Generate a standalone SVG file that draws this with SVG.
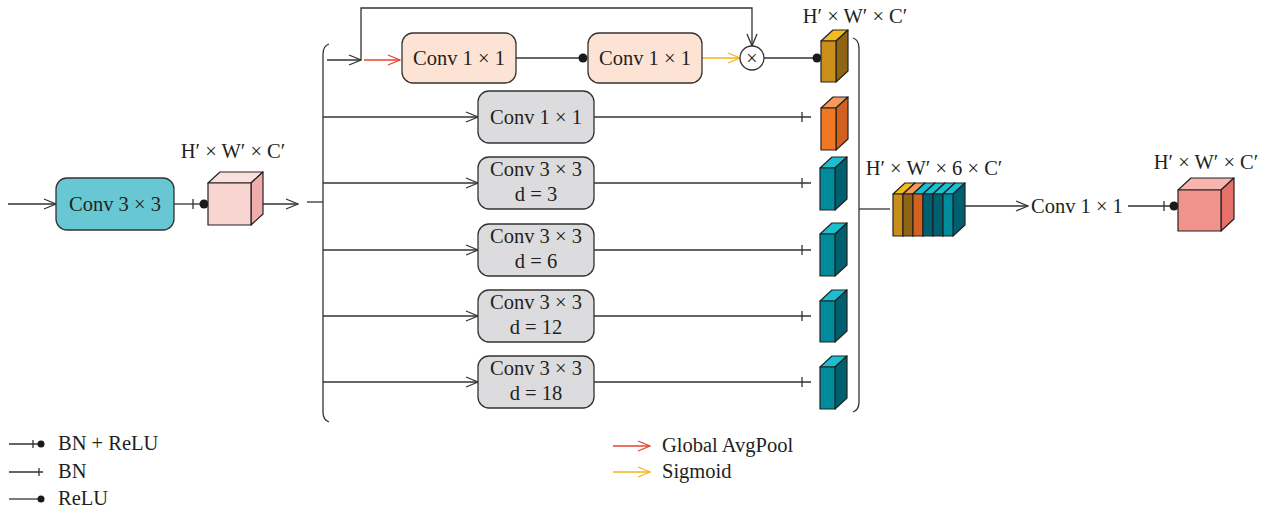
<svg xmlns="http://www.w3.org/2000/svg" width="1277" height="512" viewBox="0 0 1277 512">
<defs>
<style>
.t{font-family:"Liberation Serif","Times New Roman",serif;font-size:20.5px;fill:#231f20}
.tc{text-anchor:middle}
.ln{fill:none;stroke:#333;stroke-width:1.3}
.box{stroke:#333;stroke-width:1.3}
.cb{stroke:#222;stroke-width:1.2;stroke-linejoin:round}
.dot{fill:#1a1a1a}
</style>
<marker id="ah" viewBox="0 0 14 12" refX="13" refY="6" markerWidth="14" markerHeight="12" markerUnits="userSpaceOnUse" orient="auto"><path d="M1,1 L13,6 L1,11" fill="none" stroke="#333" stroke-width="1.3"/></marker>
<marker id="ahr" viewBox="0 0 14 12" refX="13" refY="6" markerWidth="14" markerHeight="12" markerUnits="userSpaceOnUse" orient="auto"><path d="M1,1 L13,6 L1,11" fill="none" stroke="#e8432e" stroke-width="1.3"/></marker>
<marker id="ahy" viewBox="0 0 14 12" refX="13" refY="6" markerWidth="14" markerHeight="12" markerUnits="userSpaceOnUse" orient="auto"><path d="M1,1 L13,6 L1,11" fill="none" stroke="#f5b21a" stroke-width="1.3"/></marker>
</defs>
<rect width="1277" height="512" fill="#fff"/>

<g id="connectors">
<path class="ln" d="M8,204 H56" marker-end="url(#ah)"/>
<path class="ln" d="M174,204 H203"/><path class="ln" d="M193,199 V209"/><circle class="dot" cx="204" cy="204" r="4.5"/>
<path class="ln" d="M263,204 H298" marker-end="url(#ah)"/>
<path class="ln" d="M307,202 H323"/>
<path class="ln" d="M329,44 Q323,46 323,54 V412 Q323,420 329,422"/>
<path class="ln" d="M327,60 H361" marker-end="url(#ah)"/>
<path d="M364,60 H400" fill="none" stroke="#e8432e" stroke-width="1.3" marker-end="url(#ahr)"/>
<path class="ln" d="M361,60 V8 H752 V46" marker-end="url(#ah)"/>
<path class="ln" d="M516,58 H583"/><circle class="dot" cx="583" cy="58" r="4.5"/>
<path d="M702,58 H740" fill="none" stroke="#f5b21a" stroke-width="1.3" marker-end="url(#ahy)"/>
<path class="ln" d="M764,58 H817"/><circle class="dot" cx="817" cy="58" r="4.5"/>
<path class="ln" d="M323,117 H478" marker-end="url(#ah)"/>
<path class="ln" d="M323,183 H478" marker-end="url(#ah)"/>
<path class="ln" d="M323,250 H478" marker-end="url(#ah)"/>
<path class="ln" d="M323,316 H478" marker-end="url(#ah)"/>
<path class="ln" d="M323,382 H478" marker-end="url(#ah)"/>
<path class="ln" d="M594,117 H811 M802,112 V122"/>
<path class="ln" d="M594,183 H811 M802,178 V188"/>
<path class="ln" d="M594,250 H811 M802,245 V255"/>
<path class="ln" d="M594,316 H811 M802,311 V321"/>
<path class="ln" d="M594,382 H811 M802,377 V387"/>
<path class="ln" d="M853,38 Q859,40 859,48 V402 Q859,410 853,412"/>
<path class="ln" d="M859,209 H890"/>
<path class="ln" d="M965,206 H1028" marker-end="url(#ah)"/>
<path class="ln" d="M1128,206 H1172 M1164,201 V211"/><circle class="dot" cx="1174" cy="206" r="4.5"/>
</g>

<g id="node-conv3x3">
<rect class="box" x="56" y="178" width="118" height="52" rx="11" fill="#67c8d4"/>
<text class="t tc" x="115" y="211">Conv 3 × 3</text>
</g>

<g id="node-cube-in">
<text class="t tc" x="233" y="158">H′ × W′ × C′</text>
<path class="cb" d="M208,183 L220,172 L263,172 L251,183 Z" fill="#fbe1de"/>
<path class="cb" d="M251,183 L263,172 L263,214 L251,225 Z" fill="#f0aeaa"/>
<rect class="cb" x="208" y="183" width="43" height="42" fill="#f9d5d2"/>
</g>

<g id="node-top-conv1">
<rect class="box" x="402" y="33" width="114" height="50" rx="11" fill="#fde3d4"/>
<text class="t tc" x="459" y="65">Conv 1 × 1</text>
</g>
<g id="node-top-conv2">
<rect class="box" x="588" y="33" width="114" height="50" rx="11" fill="#fde3d4"/>
<text class="t tc" x="645" y="65">Conv 1 × 1</text>
</g>
<g id="node-mult">
<circle cx="752" cy="58" r="12" fill="#fff" stroke="#333" stroke-width="1.3"/>
<text class="t tc" x="752" y="65" style="font-size:20px">×</text>
</g>

<g id="node-b1">
<rect class="box" x="478" y="91" width="116" height="52" rx="11" fill="#dcdcde"/>
<text class="t tc" x="536" y="124">Conv 1 × 1</text>
</g>
<g id="node-b2">
<rect class="box" x="478" y="157" width="116" height="52" rx="11" fill="#dcdcde"/>
<text class="t tc" x="536" y="176">Conv 3 × 3</text>
<text class="t tc" x="536" y="201">d = 3</text>
</g>
<g id="node-b3">
<rect class="box" x="478" y="224" width="116" height="52" rx="11" fill="#dcdcde"/>
<text class="t tc" x="536" y="243">Conv 3 × 3</text>
<text class="t tc" x="536" y="268">d = 6</text>
</g>
<g id="node-b4">
<rect class="box" x="478" y="290" width="116" height="52" rx="11" fill="#dcdcde"/>
<text class="t tc" x="536" y="309">Conv 3 × 3</text>
<text class="t tc" x="536" y="334">d = 12</text>
</g>
<g id="node-b5">
<rect class="box" x="478" y="356" width="116" height="52" rx="11" fill="#dcdcde"/>
<text class="t tc" x="536" y="375">Conv 3 × 3</text>
<text class="t tc" x="536" y="400">d = 18</text>
</g>

<g id="node-cube-gold">
<text class="t tc" x="855" y="23">H′ × W′ × C′</text>
<path class="cb" d="M821,41 L833,30 L848,30 L836,41 Z" fill="#f4bd1c"/>
<path class="cb" d="M836,41 L848,30 L848,71 L836,82 Z" fill="#8f6414"/>
<rect class="cb" x="821" y="41" width="15" height="41" fill="#c98f1a"/>
</g>
<g id="node-cube-orange">
<path class="cb" d="M821,108 L833,97 L848,97 L836,108 Z" fill="#f59a5a"/>
<path class="cb" d="M836,108 L848,97 L848,139 L836,150 Z" fill="#d2601f"/>
<rect class="cb" x="821" y="108" width="15" height="42" fill="#f07823"/>
</g>
<g id="node-cube-t1">
<path class="cb" d="M820,168 L832,157 L847,157 L835,168 Z" fill="#1cbfcf"/>
<path class="cb" d="M835,168 L847,157 L847,199 L835,210 Z" fill="#00606f"/>
<rect class="cb" x="820" y="168" width="15" height="42" fill="#008b9c"/>
</g>
<g id="node-cube-t2">
<path class="cb" d="M820,234 L832,223 L847,223 L835,234 Z" fill="#1cbfcf"/>
<path class="cb" d="M835,234 L847,223 L847,265 L835,276 Z" fill="#00606f"/>
<rect class="cb" x="820" y="234" width="15" height="42" fill="#008b9c"/>
</g>
<g id="node-cube-t3">
<path class="cb" d="M820,301 L832,290 L847,290 L835,301 Z" fill="#1cbfcf"/>
<path class="cb" d="M835,301 L847,290 L847,331 L835,342 Z" fill="#00606f"/>
<rect class="cb" x="820" y="301" width="15" height="41" fill="#008b9c"/>
</g>
<g id="node-cube-t4">
<path class="cb" d="M820,367 L832,356 L847,356 L835,367 Z" fill="#1cbfcf"/>
<path class="cb" d="M835,367 L847,356 L847,398 L835,409 Z" fill="#00606f"/>
<rect class="cb" x="820" y="367" width="15" height="42" fill="#008b9c"/>
</g>

<g id="node-concat">
<text class="t tc" x="934" y="175">H′ × W′ × 6 × C′</text>
<path class="cb" d="M893,194 L905,183 L915,183 L903,194 Z" fill="#f4bd1c"/>
<path class="cb" d="M903,194 L915,183 L915,225 L903,236 Z" fill="#8f6414"/>
<rect class="cb" x="893" y="194" width="10" height="42" fill="#c98f1a"/>
<path class="cb" d="M903,194 L915,183 L925,183 L913,194 Z" fill="#f59a5a"/>
<path class="cb" d="M913,194 L925,183 L925,225 L913,236 Z" fill="#f07823"/>
<rect class="cb" x="903" y="194" width="10" height="42" fill="#8f6414"/>
<path class="cb" d="M913,194 L925,183 L935,183 L923,194 Z" fill="#1cbfcf"/>
<path class="cb" d="M923,194 L935,183 L935,225 L923,236 Z" fill="#008b9c"/>
<rect class="cb" x="913" y="194" width="10" height="42" fill="#d2601f"/>
<path class="cb" d="M923,194 L935,183 L945,183 L933,194 Z" fill="#1cbfcf"/>
<path class="cb" d="M933,194 L945,183 L945,225 L933,236 Z" fill="#008b9c"/>
<rect class="cb" x="923" y="194" width="10" height="42" fill="#00606f"/>
<path class="cb" d="M933,194 L945,183 L955,183 L943,194 Z" fill="#1cbfcf"/>
<path class="cb" d="M943,194 L955,183 L955,225 L943,236 Z" fill="#008b9c"/>
<rect class="cb" x="933" y="194" width="10" height="42" fill="#00606f"/>
<path class="cb" d="M943,194 L955,183 L965,183 L953,194 Z" fill="#1cbfcf"/>
<path class="cb" d="M953,194 L965,183 L965,225 L953,236 Z" fill="#00606f"/>
<rect class="cb" x="943" y="194" width="10" height="42" fill="#008b9c"/>
</g>

<g id="node-conv-out">
<text class="t" x="1031" y="213">Conv 1 × 1</text>
</g>

<g id="node-cube-out">
<text class="t tc" x="1206" y="169">H′ × W′ × C′</text>
<path class="cb" d="M1178,190 L1191,178 L1234,178 L1221,190 Z" fill="#f8b4ae"/>
<path class="cb" d="M1221,190 L1234,178 L1234,219 L1221,231 Z" fill="#e5716a"/>
<rect class="cb" x="1178" y="190" width="43" height="41" fill="#f0938b"/>
</g>

<g id="legend">
<path class="ln" d="M9,444 H40 M33,440 V448"/><circle class="dot" cx="41" cy="444" r="3.5"/>
<text class="t" x="58" y="450">BN + ReLU</text>
<path class="ln" d="M9,472 H43 M39,468 V476"/>
<text class="t" x="58" y="478">BN</text>
<path class="ln" d="M9,499 H40"/><circle class="dot" cx="41" cy="499" r="3.5"/>
<text class="t" x="58" y="505">ReLU</text>
<path d="M613,446 H650" fill="none" stroke="#e8432e" stroke-width="1.3" marker-end="url(#ahr)"/>
<text class="t" x="662" y="452">Global AvgPool</text>
<path d="M613,472 H650" fill="none" stroke="#f5b21a" stroke-width="1.3" marker-end="url(#ahy)"/>
<text class="t" x="662" y="478">Sigmoid</text>
</g>
</svg>
